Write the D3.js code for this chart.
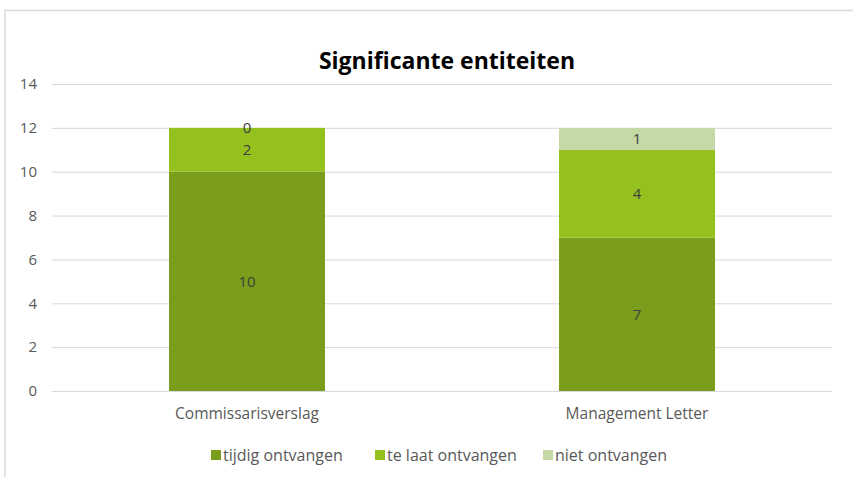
<!DOCTYPE html>
<html>
<head>
<meta charset="utf-8">
<script src="https://cdn.jsdelivr.net/npm/d3@7"></script>
<style>
  body { margin: 0; background: #fff; }
  text { font-family: "Open Sans", "Liberation Sans", sans-serif; }
</style>
</head>
<body>
<div id="chart"></div>
<script>
// data
const categories = ["Commissarisverslag", "Management Letter"];
const seriesNames = ["tijdig ontvangen", "te laat ontvangen", "niet ontvangen"];
const tijdig = [10, 7];
const teLaat = [2, 4];
const niet = [0, 1];
const yTicks = [0, 2, 4, 6, 8, 10, 12, 14];

const colors = ["#7a9e1b", "#95c11f", "#c4d9a5"];

const width = 853, height = 477;
const margin = { left: 52, right: 21, top: 84, bottom: 86 };

const svg = d3.select("#chart")
  .append("svg")
  .attr("width", width)
  .attr("height", height);

// chart frame (only top and left edge visible in the shot)
svg.append("path")
  .attr("d", `M5,${height} L5,10.5 L${width},10.5`)
  .attr("fill", "none")
  .attr("stroke", "#d9d9d9")
  .attr("stroke-width", 1.5);

const rows = categories.map((c, i) => ({
  cat: c,
  "tijdig ontvangen": tijdig[i],
  "te laat ontvangen": teLaat[i],
  "niet ontvangen": niet[i]
}));

const stack = d3.stack().keys(seriesNames)(rows);

const x = d3.scaleBand()
  .domain(categories)
  .range([margin.left, width - margin.right])
  .paddingInner(0.6)
  .paddingOuter(0.3);

const y = d3.scaleLinear()
  .domain([0, 14])
  .range([height - margin.bottom, margin.top]);

// gridlines
svg.append("g")
  .selectAll("line")
  .data(yTicks)
  .enter()
  .append("line")
  .attr("x1", margin.left)
  .attr("x2", width - margin.right)
  .attr("y1", d => y(d) + 0.5)
  .attr("y2", d => y(d) + 0.5)
  .attr("stroke", "#d9d9d9")
  .attr("stroke-width", 1);

// y axis labels
const yAxis = d3.axisLeft(y).tickValues(yTicks).tickSize(0).tickPadding(15);
const yg = svg.append("g")
  .attr("transform", `translate(${margin.left},0)`)
  .call(yAxis);
yg.select(".domain").remove();
yg.selectAll("text")
  .attr("fill", "#595959")
  .attr("font-size", "15px")
  .attr("font-family", "'Open Sans', sans-serif")
  .attr("text-anchor", "end");

// bars
const layer = svg.selectAll(".layer")
  .data(stack)
  .enter()
  .append("g")
  .attr("class", "layer")
  .attr("fill", (d, i) => colors[i]);

layer.selectAll("rect")
  .data(d => d)
  .enter()
  .append("rect")
  .attr("x", d => x(d.data.cat))
  .attr("width", x.bandwidth())
  .attr("y", d => y(d[1]))
  .attr("height", d => y(d[0]) - y(d[1]));

// data labels
layer.selectAll("text")
  .data(d => d.map(v => ({ v: v, key: d.key })))
  .enter()
  .append("text")
  .attr("x", d => x(d.v.data.cat) + x.bandwidth() / 2)
  .attr("y", d => (y(d.v[0]) + y(d.v[1])) / 2)
  .attr("dy", "0.35em")
  .attr("text-anchor", "middle")
  .attr("font-size", "15px")
  .attr("fill", "#404040")
  .text(d => d.v.data[d.key]);

// x axis labels
svg.append("g")
  .selectAll("text")
  .data(categories)
  .enter()
  .append("text")
  .attr("x", d => x(d) + x.bandwidth() / 2)
  .attr("y", 419)
  .attr("text-anchor", "middle")
  .attr("font-size", "15.5px")
  .attr("fill", "#595959")
  .text(d => d);

// title
svg.append("text")
  .attr("x", 447)
  .attr("y", 69)
  .attr("text-anchor", "middle")
  .attr("font-size", "23px")
  .attr("font-weight", "bold")
  .attr("fill", "#000")
  .text("Significante entiteiten");

// legend
const legendX = [211, 375, 543];
const legend = svg.append("g")
  .selectAll("g")
  .data(seriesNames)
  .enter()
  .append("g")
  .attr("transform", (d, i) => `translate(${legendX[i]},450)`);

legend.append("rect")
  .attr("width", 10)
  .attr("height", 10)
  .attr("fill", (d, i) => colors[i]);

legend.append("text")
  .attr("x", 12)
  .attr("y", 5)
  .attr("dy", "0.35em")
  .attr("font-size", "16px")
  .attr("fill", "#595959")
  .text(d => d);
</script>
</body>
</html>
